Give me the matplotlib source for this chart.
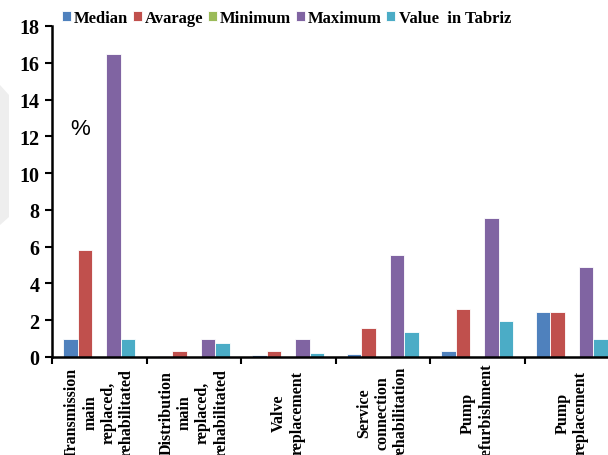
import numpy as np
import matplotlib.pyplot as plt
from matplotlib.patches import Polygon

categories = [
    "Transmission\nmain\nreplaced,\nrehabilitated",
    "Distribution\nmain\nreplaced,\nrehabilitated",
    "Valve\nreplacement",
    "Service\nconnection\nrehabilitation",
    "Pump\nrefurbishment",
    "Pump\nreplacement",
]
series_names = ["Median", "Avarage", "Minimum", "Maximum", "Value  in Tabriz"]
median = [1.0, 0.05, 0.1, 0.15, 0.3, 2.43]
average = [5.8, 0.35, 0.35, 1.57, 2.6, 2.43]
minimum = [0.0, 0.0, 0.0, 0.0, 0.0, 0.0]
maximum = [16.5, 1.0, 1.0, 5.56, 7.55, 4.9]
tabriz = [1.0, 0.75, 0.2, 1.38, 1.96, 0.98]
yticks = [0, 2, 4, 6, 8, 10, 12, 14, 16, 18]

colors = ["#4F81BD", "#C0504D", "#9BBB59", "#8064A2", "#4BACC6"]
serif = ["Liberation Serif", "DejaVu Serif"]

fig = plt.figure(figsize=(6.08, 4.56), dpi=100)
ax = fig.add_axes([52 / 608, 1 - 358 / 456, 567 / 608, 331 / 456])

# faint grey shape at the left edge of the picture
fig.patches.append(Polygon([[0, 1 - 86 / 456], [9 / 608, 1 - 96 / 456],
                            [9 / 608, 1 - 218 / 456], [0, 1 - 226 / 456]],
                           closed=True, transform=fig.transFigure,
                           facecolor="#eeeeee", edgecolor="none", zorder=0))

x = np.arange(len(categories)) + 0.5
w = 0.153
data = [median, average, minimum, maximum, tabriz]
handles = []
for i, (vals, name, c) in enumerate(zip(data, series_names, colors)):
    b = ax.bar(x + (i - 2) * w, vals, width=w, color=c, edgecolor="white",
               linewidth=0.6, label=name)
    handles.append(b)

ax.set_xlim(0, 6)
ax.set_ylim(0, 18)
ax.set_yticks(yticks)
ax.set_yticklabels([str(t) for t in yticks], fontfamily=serif,
                   fontweight="bold", fontsize=14.5)
ax.tick_params(axis="y", direction="out", length=5, width=1.5, pad=4)

ax.set_xticks(np.arange(0, 7))
ax.set_xticklabels([])
ax.tick_params(axis="x", which="major", direction="out", length=5, width=1.5)

# category labels: one rotated text per line, all centred on the same height
trans = ax.get_xaxis_transform()
line_step = 0.193
for xi, lab in zip(x, categories):
    lines = lab.split("\n")
    n = len(lines)
    for k, ln in enumerate(lines):
        ax.text(xi + (k - (n - 1) / 2) * line_step, -0.166, ln,
                transform=trans, rotation=90, ha="center", va="center",
                fontfamily=serif, fontweight="bold", fontsize=11.5,
                clip_on=False)

for s in ["top", "right"]:
    ax.spines[s].set_visible(False)
for s in ["left", "bottom"]:
    ax.spines[s].set_linewidth(1.8)

ax.text(0.296, 12.4, "%", fontfamily=["Liberation Sans", "DejaVu Sans"],
        fontsize=16, ha="center", va="center")

fig.legend(handles=handles, labels=series_names, loc="upper left",
           bbox_to_anchor=(50 / 608, 1 + 1 / 456), ncol=5, frameon=False,
           prop={"family": serif, "weight": "bold", "size": 12},
           handlelength=0.55, handleheight=0.55, handletextpad=0.2,
           columnspacing=0.25, borderpad=0.2)

fig.savefig("out.png", dpi=100)
